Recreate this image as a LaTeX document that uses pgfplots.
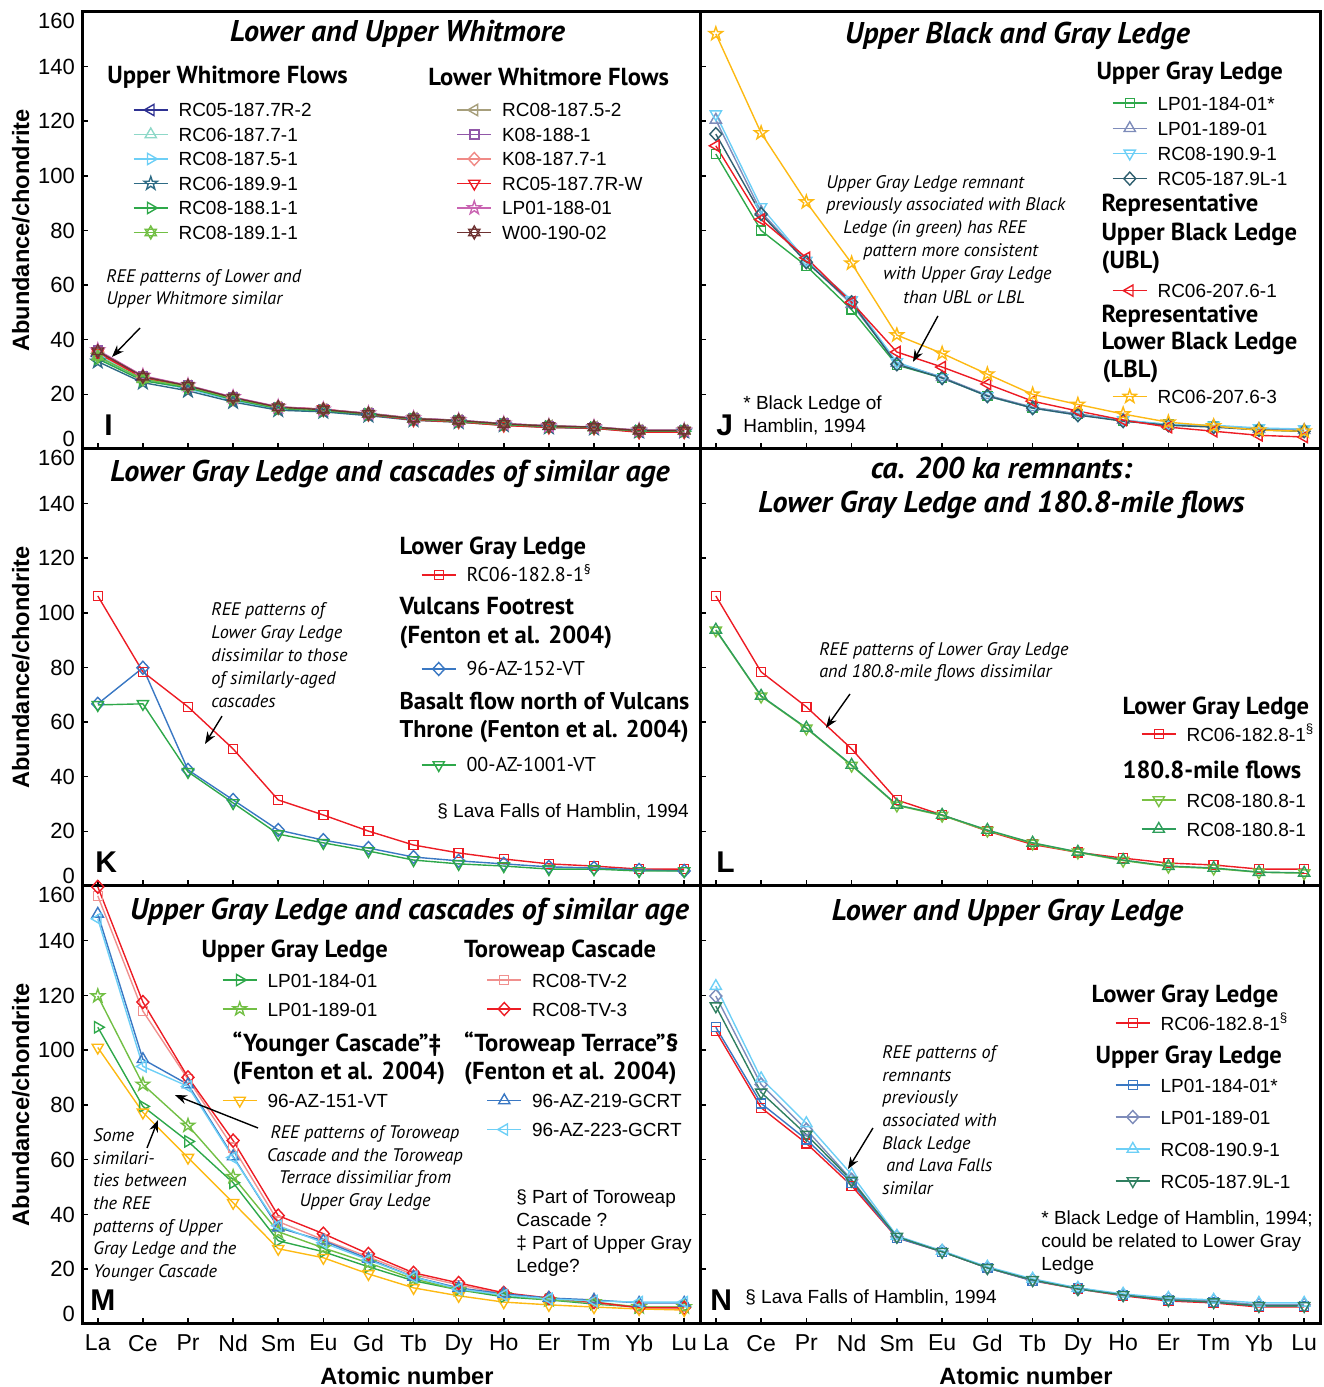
\documentclass[border=0pt]{standalone}
\usepackage{pgfplots}
\pgfplotsset{compat=1.18}
\usepackage{fontspec}
\setmainfont{Liberation Sans}
\newfontfamily\my{PT Sans}
\usetikzlibrary{arrows.meta}

\newcommand\fT{\my\bfseries\itshape\fontsize{15}{17}\selectfont}
\newcommand\fH{\my\bfseries\fontsize{12.3}{14}\selectfont}
\newcommand\fA{\my\itshape\fontsize{9.1}{11.3}\selectfont}
\newcommand\fN{\fontsize{9.5}{11.5}\selectfont}
\newcommand\fP{\bfseries\fontsize{15}{17}\selectfont}
\newcommand\St[2]{\rule[\dimexpr3.5pt-#2\relax]{0pt}{\dimexpr#1+#2\relax}}
\newcommand\lo[1]{\raisebox{1.1pt}[0pt][0pt]{#1}}
\newcommand\hi[1]{\raisebox{-8.4pt}[0pt][0pt]{#1}}
\newcommand\pp[2]{\pgfqpoint{#1\pgfplotmarksize}{#2\pgfplotmarksize}}

\pgfdeclareplotmark{tU}{\pgfpathmoveto{\pp{0}{1.3}}\pgfpathlineto{\pp{-1.126}{-0.65}}\pgfpathlineto{\pp{1.126}{-0.65}}\pgfpathclose\pgfusepathqstroke}
\pgfdeclareplotmark{tD}{\pgfpathmoveto{\pp{0}{-1.3}}\pgfpathlineto{\pp{1.126}{0.65}}\pgfpathlineto{\pp{-1.126}{0.65}}\pgfpathclose\pgfusepathqstroke}
\pgfdeclareplotmark{tL}{\pgfpathmoveto{\pp{-1.3}{0}}\pgfpathlineto{\pp{0.65}{1.126}}\pgfpathlineto{\pp{0.65}{-1.126}}\pgfpathclose\pgfusepathqstroke}
\pgfdeclareplotmark{tR}{\pgfpathmoveto{\pp{1.3}{0}}\pgfpathlineto{\pp{-0.65}{1.126}}\pgfpathlineto{\pp{-0.65}{-1.126}}\pgfpathclose\pgfusepathqstroke}
\pgfdeclareplotmark{sq}{\pgfpathrectangle{\pp{-0.9}{-0.9}}{\pp{1.8}{1.8}}\pgfusepathqstroke}
\pgfdeclareplotmark{dia}{\pgfpathmoveto{\pp{0}{1.3}}\pgfpathlineto{\pp{1.2}{0}}\pgfpathlineto{\pp{0}{-1.3}}\pgfpathlineto{\pp{-1.2}{0}}\pgfpathclose\pgfusepathqstroke}
\pgfdeclareplotmark{st}{\pgfpathmoveto{\pp{0}{1.4}}\pgfpathlineto{\pp{-0.323}{0.445}}\pgfpathlineto{\pp{-1.331}{0.433}}\pgfpathlineto{\pp{-0.523}{-0.17}}\pgfpathlineto{\pp{-0.823}{-1.133}}\pgfpathlineto{\pp{0}{-0.55}}\pgfpathlineto{\pp{0.823}{-1.133}}\pgfpathlineto{\pp{0.523}{-0.17}}\pgfpathlineto{\pp{1.331}{0.433}}\pgfpathlineto{\pp{0.323}{0.445}}\pgfpathclose\pgfusepathqstroke}
\pgfdeclareplotmark{hx}{\pgfpathmoveto{\pp{0}{1.3}}\pgfpathlineto{\pp{-1.126}{-0.65}}\pgfpathlineto{\pp{1.126}{-0.65}}\pgfpathclose\pgfpathmoveto{\pp{0}{-1.3}}\pgfpathlineto{\pp{1.126}{0.65}}\pgfpathlineto{\pp{-1.126}{0.65}}\pgfpathclose\pgfusepathqstroke}

\definecolor{cNavy}{HTML}{2E3192}
\definecolor{cAqua}{HTML}{8ED8C8}
\definecolor{cLtBlue}{HTML}{6DCFF6}
\definecolor{cTeal}{HTML}{2E6B85}
\definecolor{cGreen}{HTML}{2EA84A}
\definecolor{cYG}{HTML}{72BF44}
\definecolor{cKhaki}{HTML}{A79F7C}
\definecolor{cPurple}{HTML}{9157A8}
\definecolor{cSalmon}{HTML}{F08A86}
\definecolor{cRed}{HTML}{ED1C24}
\definecolor{cPink}{HTML}{C964B2}
\definecolor{cBrown}{HTML}{6E3232}
\definecolor{cGrayBlue}{HTML}{7E8CBA}
\definecolor{cDTeal}{HTML}{2F5F6F}
\definecolor{cOrange}{HTML}{FDB913}
\definecolor{cBlue}{HTML}{3A78C3}
\definecolor{cPinkL}{HTML}{F0908E}
\definecolor{cNTeal}{HTML}{2F7F60}
\definecolor{cLGreen}{HTML}{7AC143}
\definecolor{cDGreen}{HTML}{2E9E5B}

\tikzset{t/.style={inner sep=0pt, anchor=west},
 ar/.style={-{Stealth[length=6pt,width=4.5pt]}, line width=0.7pt, black}}

\pgfplotsset{
 base/.style={scale only axis, width=309pt, height=218.5pt, anchor=south west,
   xmin=0.65, xmax=14.35, ymin=0, ymax=160,
   xtick={1,...,14}, ytick={0,20,...,160},
   xtick pos=left, ytick pos=left, tick align=inside, major tick length=3pt,
   every tick/.style={black, line width=0.75pt},
   axis line style={line width=1.5pt},
   clip=false,
   yticklabel style={font=\fontsize{11}{13}\selectfont},
   xticklabel style={font=\fontsize{11.5}{13}\selectfont, yshift=-2pt},
   ylabel style={font=\bfseries\fontsize{11.8}{14}\selectfont},
   ylabel shift=-2.5pt,
   xlabel style={font=\bfseries\fontsize{11.8}{14}\selectfont, inner sep=0pt, xshift=8pt, yshift=-2.5pt},
   legend cell align=left,
   legend style={draw=none, fill=none, inner sep=0pt, outer sep=0pt, row sep=0pt, column sep=5pt, nodes={inner sep=0pt, outer sep=0pt, text depth=, text height=}, font=\fN}},
 s/.style 2 args={color=#1, mark=#2, line width=0.7pt, mark size=2.5pt, mark options={solid, line width=0.7pt}},
 YL/.style={yticklabels={\lo{0},20,40,60,80,100,120,140,\hi{160}}, ylabel={Abundance/chondrite}},
 YN/.style={yticklabels={}},
 XL/.style={xticklabels={La,Ce,Pr,Nd,Sm,Eu,Gd,Tb,Dy,Ho,Er,Tm,Yb,Lu}, xlabel={Atomic number}},
 XN/.style={xticklabels={}},
}

\begin{document}
\begin{tikzpicture}
%================ I =================
\begin{axis}[base, at={(41pt,469pt)}, YL, XN, legend columns=2,
  legend style={at={(0.0825,0.8038)},anchor=north west}]
\addplot[s={cNavy}{tL}] coordinates {(1,34)(2,25.5)(3,22.2)(4,18)(5,14.8)(6,14)(7,12.6)(8,10.9)(9,10.2)(10,9)(11,8.2)(12,7.8)(13,6.5)(14,6.5)};
\addlegendentry{\makebox[134pt][l]{\St{6.125pt}{6.125pt}RC05-187.7R-2}}
\addplot[s={cKhaki}{tL}] coordinates {(1,35)(2,26.2)(3,23)(4,18.7)(5,15.2)(6,14.4)(7,13)(8,11.2)(9,10.4)(10,9.2)(11,8.4)(12,8)(13,6.8)(14,6.8)};
\addlegendentry{\St{6.125pt}{6.125pt}RC08-187.5-2}
\addplot[s={cAqua}{tU}] coordinates {(1,34.5)(2,25.8)(3,22.5)(4,18.3)(5,15)(6,14.2)(7,12.8)(8,11)(9,10.3)(10,9.1)(11,8.3)(12,7.9)(13,6.8)(14,6.8)};
\addlegendentry{\makebox[134pt][l]{\St{6.125pt}{6.125pt}RC06-187.7-1}}
\addplot[s={cPurple}{sq}] coordinates {(1,36)(2,26.6)(3,23.2)(4,18.9)(5,15.3)(6,14.5)(7,13)(8,11.2)(9,10.5)(10,9.3)(11,8.5)(12,8)(13,6.8)(14,6.8)};
\addlegendentry{\St{6.125pt}{6.125pt}K08-188-1}
\addplot[s={cLtBlue}{tR}] coordinates {(1,33.5)(2,25.2)(3,22)(4,17.8)(5,14.6)(6,13.8)(7,12.5)(8,10.7)(9,10)(10,8.9)(11,8.1)(12,7.7)(13,6.6)(14,6.6)};
\addlegendentry{\makebox[134pt][l]{\St{6.125pt}{6.125pt}RC08-187.5-1}}
\addplot[s={cSalmon}{dia}] coordinates {(1,35.5)(2,26.3)(3,23)(4,18.6)(5,15.4)(6,14.6)(7,12.9)(8,11)(9,10.3)(10,9)(11,8.2)(12,7.8)(13,6.3)(14,6.4)};
\addlegendentry{\St{6.125pt}{6.125pt}K08-187.7-1}
\addplot[s={cTeal}{st}] coordinates {(1,32)(2,24.3)(3,21.3)(4,17.2)(5,14.2)(6,13.6)(7,12.2)(8,10.5)(9,9.8)(10,8.7)(11,7.9)(12,7.5)(13,6.4)(14,6.4)};
\addlegendentry{\makebox[134pt][l]{\St{6.125pt}{6.125pt}RC06-189.9-1}}
\addplot[s={cRed}{tD}] coordinates {(1,35.2)(2,26)(3,22.7)(4,18.4)(5,15.2)(6,14.6)(7,12.6)(8,10.6)(9,9.9)(10,8.6)(11,7.9)(12,7.6)(13,6.1)(14,6.2)};
\addlegendentry{\St{6.125pt}{6.125pt}RC05-187.7R-W}
\addplot[s={cGreen}{tR}] coordinates {(1,33)(2,25)(3,22.4)(4,18.1)(5,14.8)(6,14)(7,12.7)(8,10.9)(9,10.1)(10,8.9)(11,8.2)(12,7.8)(13,6.5)(14,6.5)};
\addlegendentry{\makebox[134pt][l]{\St{6.125pt}{6.125pt}RC08-188.1-1}}
\addplot[s={cPink}{st}] coordinates {(1,36.2)(2,26.8)(3,23.3)(4,19)(5,15.5)(6,14.5)(7,13.1)(8,11.3)(9,10.5)(10,9.3)(11,8.5)(12,8.1)(13,6.9)(14,6.9)};
\addlegendentry{\St{6.125pt}{6.125pt}LP01-188-01}
\addplot[s={cYG}{hx}] coordinates {(1,33.8)(2,25.6)(3,22.8)(4,18.5)(5,15.1)(6,14.3)(7,12.9)(8,11.1)(9,10.3)(10,9.1)(11,8.4)(12,7.9)(13,6.7)(14,6.7)};
\addlegendentry{\makebox[134pt][l]{\St{6.125pt}{6.125pt}RC08-189.1-1}}
\addplot[s={cBrown}{hx}] coordinates {(1,35.8)(2,26.5)(3,23.1)(4,18.8)(5,15.3)(6,14.4)(7,12.9)(8,11.1)(9,10.4)(10,9.2)(11,8.4)(12,8)(13,6.7)(14,6.7)};
\addlegendentry{\St{6.125pt}{6.125pt}W00-190-02}
\node[font=\fT, inner sep=0pt] at (axis cs:7.644,151.96) {Lower and Upper Whitmore};
\node[t, font=\fH] at (axis cs:1.204,136.2) {Upper Whitmore Flows};
\node[t, font=\fH] at (axis cs:8.320,136.2) {Lower Whitmore Flows};
\node[t, font=\fA, align=left] at (axis cs:1.182,58.6) {REE patterns of Lower and\\Upper Whitmore similar};
\draw[ar] (axis cs:1.936,44.3) -- (axis cs:1.315,33.7);
\node[t, font=\fP] at (axis cs:1.138,8.8) {I};
\end{axis}

%================ J =================
\begin{axis}[base, width=310pt, at={(350pt,469pt)}, YN, XN,
  legend style={at={(0.6645,0.8947)},anchor=north west}]
\addlegendimage{empty legend}
\addlegendentry{\hspace{-30.5pt}\fH\St{7pt}{9.2pt}Upper Gray Ledge}
\addplot[s={cGreen}{sq}] coordinates {(1,108)(2,80)(3,67)(4,51)(5,30.7)(6,26)(7,19.4)(8,15)(9,12.8)(10,10.2)(11,9)(12,8.4)(13,7)(14,6.5)};
\addlegendentry{\St{6.3pt}{6.3pt}LP01-184-01*}
\addplot[s={cGrayBlue}{tU}] coordinates {(1,120.5)(2,86.8)(3,68.8)(4,53)(5,31.5)(6,26.3)(7,19.7)(8,15.3)(9,12.8)(10,10.6)(11,8.7)(12,8.4)(13,7.3)(14,6.9)};
\addlegendentry{\St{6.3pt}{6.3pt}LP01-189-01}
\addplot[s={cLtBlue}{tD}] coordinates {(1,122.6)(2,88.6)(3,69)(4,54.5)(5,31.8)(6,26)(7,19.4)(8,15)(9,12.4)(10,10.6)(11,9)(12,8.7)(13,7.7)(14,7.3)};
\addlegendentry{\St{6.3pt}{6.3pt}RC08-190.9-1}
\addplot[s={cDTeal}{dia}] coordinates {(1,115.3)(2,86)(3,68.4)(4,53.7)(5,31)(6,26)(7,19.4)(8,15)(9,12.4)(10,10.2)(11,8.7)(12,8)(13,7)(14,6.5)};
\addlegendentry{\St{6.3pt}{6.3pt}RC05-187.9L-1}
\addlegendimage{empty legend}
\addlegendentry{\hspace{-28pt}\fH\St{6.7pt}{7.25pt}Representative}
\addlegendimage{empty legend}
\addlegendentry{\hspace{-28pt}\fH\St{7.25pt}{7pt}Upper Black Ledge}
\addlegendimage{empty legend}
\addlegendentry{\hspace{-28pt}\fH\St{7pt}{8.2pt}(UBL)}
\addplot[s={cRed}{tL}] coordinates {(1,111)(2,84)(3,70)(4,53.7)(5,35.5)(6,30)(7,23.8)(8,17.5)(9,13.9)(10,10.6)(11,8)(12,6.5)(13,5)(14,4.4)};
\addlegendentry{\St{6.3pt}{6.3pt}RC06-207.6-1}
\addlegendimage{empty legend}
\addlegendentry{\hspace{-28pt}\fH\St{6.2pt}{6.75pt}Representative}
\addlegendimage{empty legend}
\addlegendentry{\hspace{-28pt}\fH\St{6.75pt}{7pt}Lower Black Ledge}
\addlegendimage{empty legend}
\addlegendentry{\hspace{-28pt}\fH\St{7pt}{6.7pt}(LBL)}
\addplot[s={cOrange}{st}] coordinates {(1,152)(2,115.7)(3,90.4)(4,68)(5,41.7)(6,35)(7,27.4)(8,20)(9,16.3)(10,12.8)(11,9.8)(12,8.4)(13,6.9)(14,6.5)};
\addlegendentry{\St{6.3pt}{6.3pt}RC06-207.6-3}
\node[font=\fT, inner sep=0pt] at (axis cs:7.665,151.2) {Upper Black and Gray Ledge};
\node[t, font=\fA] at (axis cs:3.434,97.0) {Upper Gray Ledge remnant};
\node[t, font=\fA] at (axis cs:3.434,89.0) {previously associated with Black};
\node[t, font=\fA] at (axis cs:3.810,80.6) {Ledge (in green) has REE};
\node[t, font=\fA] at (axis cs:4.251,72.1) {pattern more consistent};
\node[t, font=\fA] at (axis cs:4.693,63.7) {with Upper Gray Ledge};
\node[t, font=\fA] at (axis cs:5.135,55.7) {than UBL or LBL};
\draw[ar] (axis cs:5.908,48.7) -- (axis cs:5.356,31.9);
\node[t, font=\fN, align=left] at (axis cs:1.600,12.45) {* Black Ledge of\\Hamblin, 1994};
\node[t, font=\fP] at (axis cs:1.004,8.8) {J};
\end{axis}

%================ K =================
\begin{axis}[base, at={(41pt,250.5pt)}, YL, XN,
  legend style={at={(0.5485,0.8055)},anchor=north west, font=\my\fontsize{10}{12}\selectfont}]
\addlegendimage{empty legend}
\addlegendentry{\hspace{-33.5pt}\fH\St{7pt}{7.5pt}Lower Gray Ledge}
\addplot[s={cRed}{sq}] coordinates {(1,106.2)(2,78.4)(3,65.6)(4,50.2)(5,31.5)(6,26)(7,20.1)(8,15)(9,12.1)(10,9.9)(11,8.1)(12,7.3)(13,6.2)(14,6.2)};
\addlegendentry{\St{6pt}{6pt}RC06-182.8-1\textsuperscript{§}}
\addlegendimage{empty legend}
\addlegendentry{\hspace{-33.5pt}\fH\St{10.5pt}{7.25pt}Vulcans Footrest}
\addlegendimage{empty legend}
\addlegendentry{\hspace{-33.5pt}\fH\St{7.25pt}{10pt}(Fenton et al. 2004)}
\addplot[s={cBlue}{dia}] coordinates {(1,66.7)(2,79.9)(3,42.5)(4,31.5)(5,20.5)(6,16.8)(7,13.9)(8,10.6)(9,9.2)(10,8.1)(11,7)(12,6.6)(13,5.9)(14,5.5)};
\addlegendentry{\St{6pt}{6pt}96-AZ-152-VT}
\addlegendimage{empty legend}
\addlegendentry{\hspace{-33.5pt}\fH\fontsize{12.1}{14}\selectfont\St{11pt}{7pt}Basalt flow north of Vulcans}
\addlegendimage{empty legend}
\addlegendentry{\hspace{-33.5pt}\fH\fontsize{12.1}{14}\selectfont\St{7pt}{11pt}Throne (Fenton et al. 2004)}
\addplot[s={cGreen}{tD}] coordinates {(1,66.3)(2,66.7)(3,41.8)(4,30.4)(5,19)(6,15.8)(7,12.8)(8,9.5)(9,8.1)(10,7.3)(11,6.2)(12,6.2)(13,5.5)(14,5.5)};
\addlegendentry{\St{6pt}{6pt}00-AZ-1001-VT}
\node[font=\fT, inner sep=0pt] at (axis cs:7.478,150.9) {Lower Gray Ledge and cascades of similar age};
\node[t, font=\my\itshape\fontsize{9.1}{11.5}\selectfont, align=left] at (axis cs:3.510,84.6) {REE patterns of\\Lower Gray Ledge\\dissimilar to those\\of similarly-aged\\cascades};
\draw[ar] (axis cs:3.754,62.2) -- (axis cs:3.377,52.0);
\node[t, font=\fN] at (axis cs:8.520,27.1) {§ Lava Falls of Hamblin, 1994};
\node[t, font=\fP] at (axis cs:0.938,8.8) {K};
\end{axis}

%================ L =================
\begin{axis}[base, width=310pt, at={(350pt,250.5pt)}, YN, XN,
  legend style={at={(0.7113,0.4416)},anchor=north west}]
\addlegendimage{empty legend}
\addlegendentry{\hspace{-32pt}\fH\St{7pt}{6.25pt}Lower Gray Ledge}
\addplot[s={cRed}{sq}] coordinates {(1,106.2)(2,78.4)(3,65.6)(4,50.2)(5,31.5)(6,26)(7,20.1)(8,15.2)(9,12.3)(10,10.2)(11,8.4)(12,7.7)(13,6.2)(14,6.2)};
\addlegendentry{\St{7.25pt}{7.25pt}RC06-182.8-1\textsuperscript{§}}
\addlegendimage{empty legend}
\addlegendentry{\hspace{-32pt}\fH\St{11.25pt}{7.25pt}180.8-mile flows}
\addplot[s={cLGreen}{tD}] coordinates {(1,93.6)(2,69.4)(3,57.7)(4,44.1)(5,29.5)(6,25.8)(7,20.3)(8,15.6)(9,12.3)(10,9.3)(11,7.1)(12,6.4)(13,5.0)(14,4.7)};
\addlegendentry{\St{7.25pt}{7.25pt}RC08-180.8-1}
\addplot[s={cDGreen}{tU}] coordinates {(1,93.8)(2,69.6)(3,57.9)(4,44.3)(5,29.7)(6,26)(7,20.5)(8,15.8)(9,12.5)(10,9.5)(11,7.3)(12,6.6)(13,5.1)(14,4.8)};
\addlegendentry{\St{7.25pt}{7.25pt}RC08-180.8-1}
\node[font=\fT, inner sep=0pt, align=center] at (axis cs:7.312,145.7) {ca. 200 ka remnants:\\Lower Gray Ledge and 180.8-mile flows};
\node[t, font=\my\itshape\fontsize{9.1}{11}\selectfont, align=left] at (axis cs:3.279,82.0) {REE patterns of Lower Gray Ledge\\and 180.8-mile flows dissimilar};
\draw[ar] (axis cs:3.964,70.3) -- (axis cs:3.434,57.9);
\node[t, font=\fP] at (axis cs:1.004,8.8) {L};
\end{axis}

%================ M =================
\begin{axis}[base, height=219pt, at={(41pt,31.5pt)}, YL, XL, legend columns=2,
  legend style={at={(0.2265,0.8858)},anchor=north west}]
\addlegendimage{empty legend}
\addlegendentry{\makebox[104.5pt][l]{\hspace{-33pt}\fH\St{7pt}{7.75pt}Upper Gray Ledge}}
\addlegendimage{empty legend}
\addlegendentry{\hspace{-34pt}\fH\St{7pt}{7.75pt}Toroweap Cascade}
\addplot[s={cGreen}{tR}] coordinates {(1,108.4)(2,79.5)(3,66.7)(4,51.6)(5,30.4)(6,26.4)(7,20.9)(8,15.8)(9,12.5)(10,9.9)(11,8.8)(12,7.3)(13,6.2)(14,6.2)};
\addlegendentry{\makebox[104.5pt][l]{\St{7.25pt}{7.25pt}LP01-184-01}}
\addplot[s={cPinkL}{sq}] coordinates {(1,156.4)(2,114.3)(3,89.4)(4,64.5)(5,37.4)(6,30.8)(7,24.5)(8,18)(9,14.3)(10,11)(11,9.2)(12,7.7)(13,6.2)(14,6.2)};
\addlegendentry{\St{7.25pt}{7.25pt}RC08-TV-2}
\addplot[s={cYG}{st}] coordinates {(1,119.8)(2,87.5)(3,72.5)(4,53.8)(5,33.7)(6,27.8)(7,22.3)(8,16.5)(9,12.5)(10,10.6)(11,8.8)(12,8)(13,6.2)(14,6.2)};
\addlegendentry{\makebox[104.5pt][l]{\St{7.25pt}{7.25pt}LP01-189-01}}
\addplot[s={cRed}{dia}] coordinates {(1,159.7)(2,117.6)(3,90.1)(4,67)(5,39.6)(6,33)(7,25.6)(8,18.7)(9,15)(10,11.4)(11,9.5)(12,8)(13,5.9)(14,5.9)};
\addlegendentry{\St{7.25pt}{7.25pt}RC08-TV-3}
\addlegendimage{empty legend}
\addlegendentry{\makebox[104.5pt][l]{\hspace{-17.5pt}\fH\St{10.5pt}{7pt}“Younger Cascade”‡}}
\addlegendimage{empty legend}
\addlegendentry{\hspace{-34pt}\fH\St{10.5pt}{7pt}“Toroweap Terrace”§}
\addlegendimage{empty legend}
\addlegendentry{\makebox[104.5pt][l]{\hspace{-17.5pt}\fH\St{7pt}{6.75pt}(Fenton et al. 2004)}}
\addlegendimage{empty legend}
\addlegendentry{\hspace{-34pt}\fH\St{7pt}{6.75pt}(Fenton et al. 2004)}
\addplot[s={cOrange}{tD}] coordinates {(1,101)(2,77.3)(3,60.8)(4,44.3)(5,27.5)(6,24.2)(7,18.3)(8,13.2)(9,10.3)(10,8)(11,7)(12,6.2)(13,5.5)(14,5.1)};
\addlegendentry{\makebox[104.5pt][l]{\St{7.25pt}{7.25pt}96-AZ-151-VT}}
\addplot[s={cBlue}{tU}] coordinates {(1,149.8)(2,96.7)(3,87.5)(4,61.2)(5,35.2)(6,30.4)(7,23.8)(8,17.2)(9,13.2)(10,11)(11,9.5)(12,8.8)(13,7.7)(14,7.7)};
\addlegendentry{\St{7.25pt}{7.25pt}96-AZ-219-GCRT}
\addlegendimage{empty legend}
\addlegendentry{}
\addplot[s={cLtBlue}{tL}] coordinates {(1,148)(2,94.1)(3,86.8)(4,60.8)(5,35.9)(6,29.7)(7,23.4)(8,17.2)(9,12.8)(10,10.6)(11,9.2)(12,8.4)(13,8)(14,8)};
\addlegendentry{\St{7.25pt}{7.25pt}96-AZ-223-GCRT}
\node[font=\fT, inner sep=0pt] at (axis cs:7.910,150.5) {Upper Gray Ledge and cascades of similar age};
\node[t, font=\my\itshape\fontsize{9.1}{11.33}\selectfont, align=left] at (axis cs:0.894,43.5) {Some\\similari-\\ties between\\the REE\\patterns of Upper\\Gray Ledge and the\\Younger Cascade};
\draw[ar] (axis cs:2.091,64.3) -- (axis cs:2.335,74.5);
\node[inner sep=0pt, font=\my\itshape\fontsize{9.1}{11.35}\selectfont, align=center] at (axis cs:6.924,57.0) {REE patterns of Toroweap\\Cascade and the Toroweap\\Terrace dissimiliar from\\Upper Gray Ledge};
\draw[ar] (axis cs:4.552,71.6) -- (axis cs:2.712,83.6);
\node[t, font=\fontsize{9.5}{11.5}\selectfont, align=left] at (axis cs:10.271,33.1) {§ Part of Toroweap\\Cascade ?\\‡ Part of Upper Gray\\Ledge?};
\node[t, font=\fP] at (axis cs:0.827,8.8) {M};
\end{axis}

%================ N =================
\begin{axis}[base, width=310pt, height=219pt, at={(350pt,31.5pt)}, YN, XL,
  legend style={at={(0.6694,0.7831)},anchor=north west}]
\addlegendimage{empty legend}
\addlegendentry{\hspace{-34.5pt}\fH\St{7pt}{7pt}Lower Gray Ledge}
\addplot[s={cRed}{sq}] coordinates {(1,107)(2,79)(3,66)(4,50.5)(5,31.5)(6,26.4)(7,20.5)(8,15.8)(9,12.8)(10,10.3)(11,8.4)(12,7.7)(13,6.2)(14,6.2)};
\addlegendentry{\St{7pt}{7pt}RC06-182.8-1\textsuperscript{§}}
\addlegendimage{empty legend}
\addlegendentry{\hspace{-32.5pt}\fH\St{9.5pt}{6.5pt}Upper Gray Ledge}
\addplot[s={cBlue}{sq}] coordinates {(1,108.4)(2,80.6)(3,67.4)(4,51.6)(5,31.5)(6,26.4)(7,20.5)(8,15.8)(9,13.2)(10,10.6)(11,8.8)(12,8)(13,6.6)(14,6.6)};
\addlegendentry{\St{8pt}{8pt}LP01-184-01*}
\addplot[s={cGrayBlue}{dia}] coordinates {(1,119.8)(2,87.5)(3,71)(4,52.7)(5,31.9)(6,26.7)(7,20.5)(8,16.1)(9,12.8)(10,10.6)(11,9.2)(12,8.4)(13,7)(14,7)};
\addlegendentry{\St{8pt}{8pt}LP01-189-01}
\addplot[s={cLtBlue}{tU}] coordinates {(1,123.4)(2,89.7)(3,73.3)(4,54.6)(5,32.2)(6,26.7)(7,20.9)(8,16.5)(9,13.2)(10,11)(11,9.5)(12,8.8)(13,7.7)(14,7.7)};
\addlegendentry{\St{8pt}{8pt}RC08-190.9-1}
\addplot[s={cNTeal}{tD}] coordinates {(1,116.1)(2,84.6)(3,69.2)(4,52.4)(5,31.9)(6,26.4)(7,20.5)(8,16.1)(9,12.8)(10,10.6)(11,8.8)(12,8)(13,6.6)(14,6.6)};
\addlegendentry{\St{8pt}{8pt}RC05-187.9L-1}
\node[font=\fT, inner sep=0pt] at (axis cs:7.444,150.1) {Lower and Upper Gray Ledge};
\node[t, font=\my\itshape\fontsize{9.1}{11.35}\selectfont, align=left] at (axis cs:4.671,74.5) {REE patterns of\\remnants\\previously\\associated with\\Black Ledge\\\hspace*{2pt}and Lava Falls\\similar};
\draw[ar] (axis cs:4.472,71.6) -- (axis cs:3.920,56.6);
\node[t, font=\fontsize{9.5}{11.5}\selectfont, align=left] at (axis cs:8.184,29.9) {* Black Ledge of Hamblin, 1994;\\could be related to Lower Gray\\Ledge};
\node[t, font=\fN] at (axis cs:1.644,9.5) {§ Lava Falls of Hamblin, 1994};
\node[t, font=\fP] at (axis cs:0.871,8.8) {N};
\end{axis}
\pgfresetboundingbox
\path (0pt,0pt) rectangle (661.5pt,693.5pt);
\end{tikzpicture}
\end{document}
